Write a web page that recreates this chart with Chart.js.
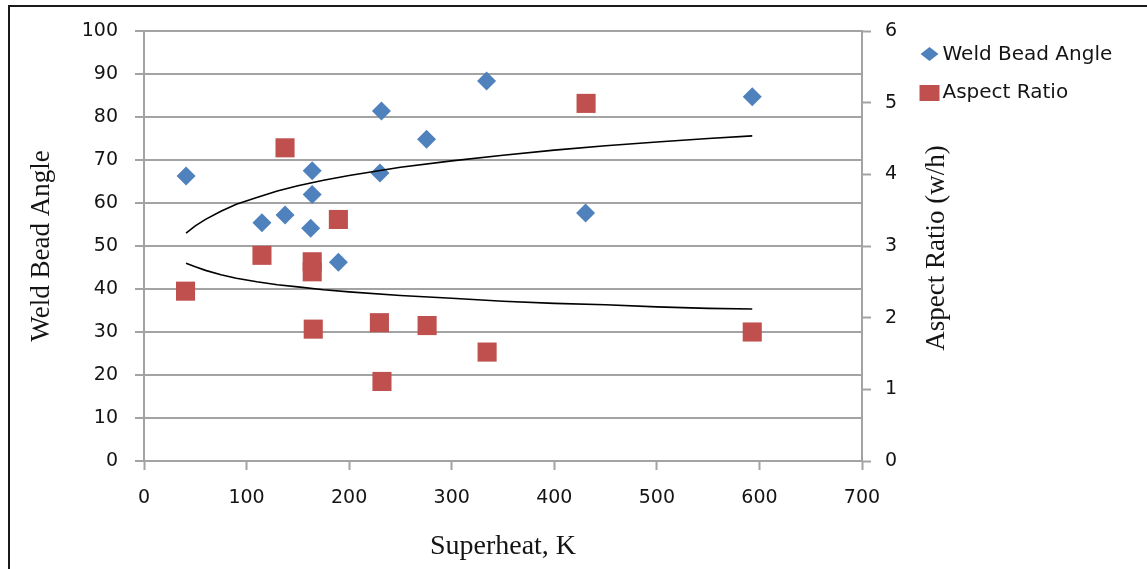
<!DOCTYPE html>
<html>
<head>
<meta charset="utf-8">
<title>Weld Bead Angle and Aspect Ratio vs Superheat</title>
<script src="https://cdn.jsdelivr.net/npm/chart.js@4.4.1/dist/chart.umd.min.js"></script>
<style>
    html, body { margin: 0; padding: 0; background: #fff; overflow: hidden; }
    #wrap { position: relative; width: 1147px; height: 569px; }
    #frame {
        position: absolute; left: 8px; top: 5px; width: 1200px; height: 600px;
        border-left: 2px solid #1a1a1a; border-top: 2px solid #1a1a1a;
    }
    #chart { position: absolute; left: 0; top: 0; }
</style>
</head>
<body>
<div id="wrap">
    <div id="frame"></div>
    <canvas id="chart" width="1147" height="569"></canvas>
</div>
<script>
/* ============================================
   Data
============================================ */

// Weld bead angle (left axis)
const angleSuperheat = [41, 115, 137.5, 164, 164, 162.5, 189.5, 231.5, 230, 275.5, 334, 430.5, 593];
const angleValues = [66.3, 55.4, 57.2, 67.5, 62.0, 54.1, 46.2, 81.4, 67.0, 74.8, 88.4, 57.7, 84.7];

// Aspect ratio w/h (right axis)
const ratioSuperheat = [40.5, 115, 137.5, 164, 164, 165, 189.5, 229.5, 232, 276, 334.5, 431, 593];
const ratioValues = [2.37, 2.87, 4.37, 2.78, 2.64, 1.84, 3.37, 1.93, 1.11, 1.89, 1.52, 4.99, 1.80];

// Trend lines, points
const trendX = [41, 50, 60, 75, 90, 110, 130, 150, 175, 200, 250, 300, 350, 400, 450, 500, 550, 593];
const angleTrend = [53.0, 54.7, 56.2, 58.1, 59.7, 61.3, 62.8, 64.0, 65.3, 66.4, 68.3, 69.8, 71.1, 72.3, 73.3, 74.2, 75.0, 75.6];
const ratioTrend = [2.76, 2.71, 2.66, 2.60, 2.55, 2.50, 2.46, 2.43, 2.39, 2.36, 2.31, 2.27, 2.23, 2.20, 2.18, 2.15, 2.13, 2.12];

// Axis ranges and labels
const xTicks = [0, 100, 200, 300, 400, 500, 600, 700];
const angleTicks = [0, 10, 20, 30, 40, 50, 60, 70, 80, 90, 100];
const ratioTicks = [0, 1, 2, 3, 4, 5, 6];
const seriesNames = ['Weld Bead Angle', 'Aspect Ratio'];
const xTitle = 'Superheat, K';
const leftTitle = 'Weld Bead Angle';
const rightTitle = 'Aspect Ratio (w/h)';

// Colors
const BLUE = '#4F81BD';
const RED = '#C0504D';
const GRID = '#a3a3a3';
const TEXT = '#141414';

/**
 * Build point list from two arrays
 */
function toPoints(xs, ys) {
    return xs.map((x, i) => ({ x: x, y: ys[i] }));
}

/**
 * Right axis title (reads bottom to top) and legend
 */
const extrasPlugin = {
    id: 'extras',
    afterDraw(chart) {
        const ctx = chart.ctx;
        const area = chart.chartArea;

        // Right axis title
        ctx.save();
        ctx.translate(area.right + 82, (area.top + area.bottom) / 2 + 2);
        ctx.rotate(-Math.PI / 2);
        ctx.font = '27px "Liberation Serif", "Times New Roman", serif';
        ctx.fillStyle = TEXT;
        ctx.textAlign = 'center';
        ctx.textBaseline = 'alphabetic';
        ctx.fillText(rightTitle, 0, 0);
        ctx.restore();

        // Legend
        const lx = area.right + 67.5;
        const rows = [54, 93];
        ctx.save();
        ctx.fillStyle = BLUE;
        ctx.beginPath();
        ctx.moveTo(lx - 9, rows[0]);
        ctx.lineTo(lx, rows[0] - 7);
        ctx.lineTo(lx + 9, rows[0]);
        ctx.lineTo(lx, rows[0] + 7);
        ctx.closePath();
        ctx.fill();

        ctx.fillStyle = RED;
        ctx.fillRect(lx - 10, rows[1] - 8, 20, 16);

        ctx.font = '20px "DejaVu Sans", sans-serif';
        ctx.fillStyle = TEXT;
        ctx.textAlign = 'left';
        ctx.textBaseline = 'middle';
        ctx.fillText(seriesNames[0], lx + 13, rows[0] + 1);
        ctx.fillText(seriesNames[1], lx + 13, rows[1]);
        ctx.restore();
    }
};

const tickFont = { family: '"DejaVu Sans", sans-serif', size: 19 };
const titleFont = { family: '"Liberation Serif", "Times New Roman", serif', size: 27 };

const chart = new Chart(document.getElementById('chart'), {
    type: 'scatter',
    data: {
        datasets: [
            {
                label: 'angle trend',
                data: toPoints(trendX, angleTrend),
                showLine: true,
                borderColor: '#000',
                borderWidth: 1.6,
                pointRadius: 0,
                tension: 0,
                yAxisID: 'y',
                order: 0
            },
            {
                label: 'ratio trend',
                data: toPoints(trendX, ratioTrend),
                showLine: true,
                borderColor: '#000',
                borderWidth: 1.6,
                pointRadius: 0,
                tension: 0,
                yAxisID: 'y2',
                order: 0
            },
            {
                label: seriesNames[0],
                data: toPoints(angleSuperheat, angleValues),
                pointStyle: 'rectRot',
                pointRadius: 9.5,
                pointBackgroundColor: BLUE,
                pointBorderColor: BLUE,
                pointBorderWidth: 0,
                yAxisID: 'y',
                order: 1
            },
            {
                label: seriesNames[1],
                data: toPoints(ratioSuperheat, ratioValues),
                pointStyle: 'rect',
                pointRadius: 13.5,
                pointBackgroundColor: RED,
                pointBorderColor: RED,
                pointBorderWidth: 0,
                yAxisID: 'y2',
                order: 1
            }
        ]
    },
    options: {
        responsive: false,
        animation: false,
        devicePixelRatio: 1,
        layout: { padding: { left: 0, top: 31, right: 0, bottom: 0 } },
        plugins: {
            legend: { display: false },
            tooltip: { enabled: false }
        },
        scales: {
            x: {
                type: 'linear',
                position: 'bottom',
                min: xTicks[0],
                max: xTicks[xTicks.length - 1],
                afterBuildTicks: (scale) => { scale.ticks = xTicks.map(v => ({ value: v })); },
                afterFit: (scale) => { scale.height = 108; },
                grid: { drawOnChartArea: false, tickLength: 9, tickWidth: 2, tickColor: GRID },
                border: { color: GRID, width: 2 },
                ticks: { font: tickFont, color: TEXT, padding: 17, maxRotation: 0 },
                title: {
                    display: true,
                    text: xTitle,
                    font: { family: titleFont.family, size: 28 },
                    color: TEXT,
                    padding: { top: 0, bottom: 6 }
                }
            },
            y: {
                type: 'linear',
                position: 'left',
                min: angleTicks[0],
                max: angleTicks[angleTicks.length - 1],
                afterBuildTicks: (scale) => { scale.ticks = angleTicks.map(v => ({ value: v })); },
                afterFit: (scale) => { scale.width = 144; },
                grid: { color: GRID, lineWidth: 2, tickLength: 9, tickWidth: 2, tickColor: GRID },
                border: { color: GRID, width: 2 },
                ticks: { font: tickFont, color: TEXT, padding: 17 },
                title: {
                    display: true,
                    text: leftTitle,
                    font: titleFont,
                    color: TEXT,
                    padding: { top: 26, bottom: 0 }
                }
            },
            y2: {
                type: 'linear',
                position: 'right',
                min: ratioTicks[0],
                max: ratioTicks[ratioTicks.length - 1],
                afterBuildTicks: (scale) => { scale.ticks = ratioTicks.map(v => ({ value: v })); },
                afterFit: (scale) => { scale.width = 285; },
                grid: { drawOnChartArea: false, tickLength: 9, tickWidth: 2, tickColor: GRID },
                border: { color: GRID, width: 2 },
                ticks: { font: tickFont, color: TEXT, padding: 14 }
            }
        }
    },
    plugins: [extrasPlugin]
});
</script>
</body>
</html>
